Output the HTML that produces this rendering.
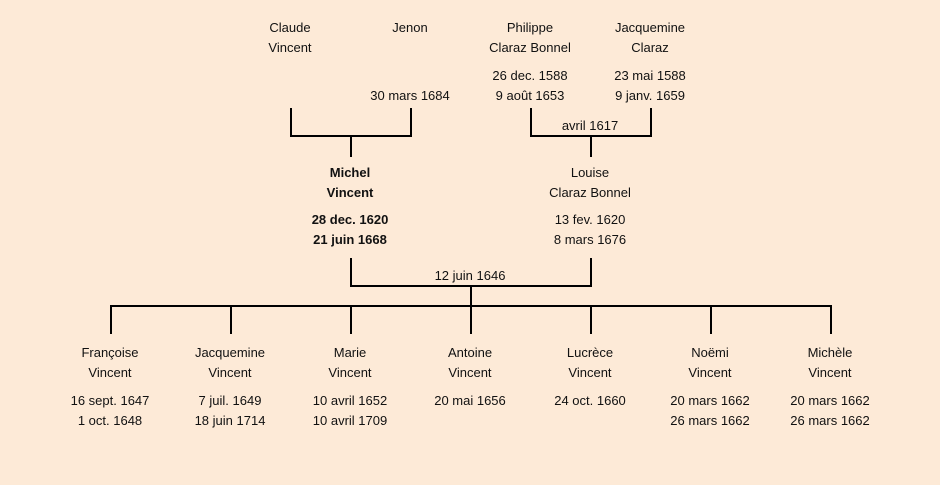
<!DOCTYPE html>
<html><head><meta charset="utf-8"><style>
html,body{margin:0;padding:0}
body{width:940px;height:485px;background:#fdead7;position:relative;overflow:hidden;font-family:"Comic Sans MS","Liberation Sans",sans-serif;font-size:13px;color:#111}
.t{position:absolute;width:160px;margin-left:-80px;text-align:center;line-height:20px;white-space:nowrap}
.b{font-weight:bold}
svg{position:absolute;left:0;top:0}
</style></head><body>
<svg width="940" height="485" stroke="#000" stroke-width="2" fill="none">
<path d="M291 108V136H411V108M351 136V157"/>
<path d="M531 108V136H651V108M591 136V157"/>
<path d="M351 258V286H591V258M471 286V306"/>
<path d="M111 306H831M111 305V334M231 305V334M351 305V334M471 305V334M591 305V334M711 305V334M831 305V334"/>
</svg>
<div class="t" style="left:290px;top:18px">Claude<br>Vincent</div>
<div class="t" style="left:410px;top:18px">Jenon</div>
<div class="t" style="left:410px;top:86px">30 mars 1684</div>
<div class="t" style="left:530px;top:18px">Philippe<br>Claraz Bonnel</div>
<div class="t" style="left:530px;top:66px">26 dec. 1588<br>9 août 1653</div>
<div class="t" style="left:650px;top:18px">Jacquemine<br>Claraz</div>
<div class="t" style="left:650px;top:66px">23 mai 1588<br>9 janv. 1659</div>
<div class="t" style="left:590px;top:116px">avril 1617</div>
<div class="t b" style="left:350px;top:163px">Michel<br>Vincent</div>
<div class="t b" style="left:350px;top:210px">28 dec. 1620<br>21 juin 1668</div>
<div class="t" style="left:590px;top:163px">Louise<br>Claraz Bonnel</div>
<div class="t" style="left:590px;top:210px">13 fev. 1620<br>8 mars 1676</div>
<div class="t" style="left:470px;top:266px">12 juin 1646</div>
<div class="t" style="left:110px;top:343px">Françoise<br>Vincent</div>
<div class="t" style="left:110px;top:391px">16 sept. 1647<br>1 oct. 1648</div>
<div class="t" style="left:230px;top:343px">Jacquemine<br>Vincent</div>
<div class="t" style="left:230px;top:391px">7 juil. 1649<br>18 juin 1714</div>
<div class="t" style="left:350px;top:343px">Marie<br>Vincent</div>
<div class="t" style="left:350px;top:391px">10 avril 1652<br>10 avril 1709</div>
<div class="t" style="left:470px;top:343px">Antoine<br>Vincent</div>
<div class="t" style="left:470px;top:391px">20 mai 1656</div>
<div class="t" style="left:590px;top:343px">Lucrèce<br>Vincent</div>
<div class="t" style="left:590px;top:391px">24 oct. 1660</div>
<div class="t" style="left:710px;top:343px">Noëmi<br>Vincent</div>
<div class="t" style="left:710px;top:391px">20 mars 1662<br>26 mars 1662</div>
<div class="t" style="left:830px;top:343px">Michèle<br>Vincent</div>
<div class="t" style="left:830px;top:391px">20 mars 1662<br>26 mars 1662</div>
</body></html>
